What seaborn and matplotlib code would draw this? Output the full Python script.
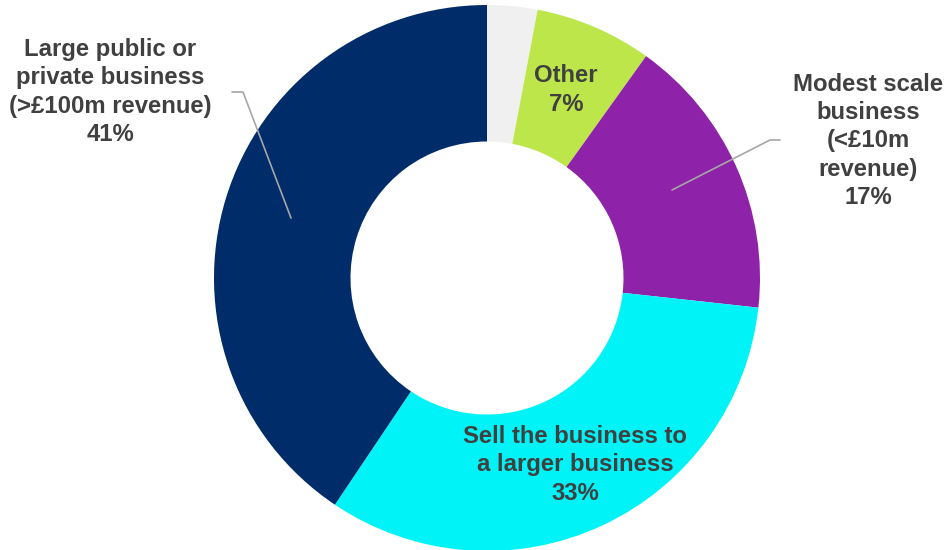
import matplotlib
matplotlib.use("Agg")
import matplotlib.pyplot as plt
import seaborn as sns

# Survey responses: preferred future for the business
categories = ["", "Other", "Modest scale\nbusiness\n(<£10m\nrevenue)",
              "Sell the business to\na larger business",
              "Large public or\nprivate business\n(>£100m revenue)"]
values = [3, 7, 17, 33, 41]
pct_labels = ["", "7%", "17%", "33%", "41%"]
slice_colors = ["#F0F0F0", "#BCE649", "#8E22A8", "#00F3F7", "#002D6A"]

sns.set_theme(style="white")
plt.rcParams["font.family"] = ["Liberation Sans", "DejaVu Sans"]

fig = plt.figure(figsize=(9.47, 5.5), dpi=100)
W, H = 947, 550
cx, cy, R = 487, 278, 273
ax = fig.add_axes([(cx - R) / W, (H - cy - R) / H, 2 * R / W, 2 * R / H])

palette = sns.color_palette(slice_colors)
ax.pie(values, colors=palette, startangle=90, counterclock=False,
       radius=1.0, wedgeprops=dict(width=0.5, linewidth=0))
ax.set_xlim(-1, 1)
ax.set_ylim(-1, 1)
ax.set_aspect("equal")
ax.axis("off")


def to_data(px, py):
    return (px - cx) / R, (cy - py) / R


text_kw = dict(ha="center", va="center", fontsize=17.2, fontweight="bold",
               color="#404040", linespacing=1.28)

# label positions (pixel space of the figure)
label_pos = {1: (566, 90), 2: (868, 141), 3: (575, 465), 4: (110, 92)}
for i, (px, py) in label_pos.items():
    x, y = to_data(px, py)
    ax.text(x, y, f"{categories[i]}\n{pct_labels[i]}", **text_kw)

# leader lines for the outside labels
leaders = [
    [(232, 92), (243, 92), (291, 218)],
    [(780, 140), (770, 140), (672, 190)],
]
for pts in leaders:
    xs, ys = zip(*[to_data(*p) for p in pts])
    ax.plot(xs, ys, color="#A6A6A6", lw=1.2, clip_on=False)

fig.savefig("out.png", dpi=100)
